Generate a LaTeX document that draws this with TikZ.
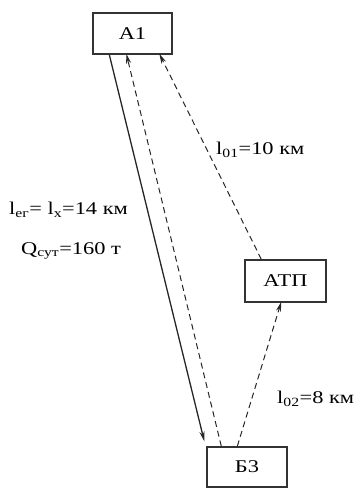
\documentclass[tikz,border=0pt]{standalone}
\usepackage{fontspec}
\setmainfont[FakeStretch=1.25]{Liberation Serif}
\usetikzlibrary{arrows.meta,calc}
\begin{document}
\begin{tikzpicture}[x=1bp,y=-1bp,
  box/.style={draw=black!80,line width=1.4bp,minimum width=79bp,minimum height=41bp,inner sep=0pt,font=\fontsize{18}{20}\selectfont},
  lbl/.style={inner sep=0pt,font=\fontsize{18}{20}\selectfont},
  con/.style={draw=black!85,line width=1bp,-{Stealth[length=10bp,width=5bp]}},
  dsh/.style={con,dash pattern=on 6bp off 4bp}]
\useasboundingbox (0,0) rectangle (360,488);
\node[box] (a1) at (132.5,33.5) {A1};
\node[box,minimum width=80bp,minimum height=40bp] (b3) at (247,467) {Б3};
\node[box,minimum width=81bp,minimum height=42bp] (atp) at (285.5,281) {АТП};
\draw[con,line width=1.3bp] ($(a1.south west)+(17,0)$) -- ($(b3.north west)+(-2,-5)$);
\draw[dsh] ($(b3.north west)+(15,0)$) -- ($(a1.south west)+(34,-1)$);
\draw[dsh] ($(atp.north west)+(17,0)$) -- ($(a1.south west)+(67,-1)$);
\draw[dsh] ($(b3.north west)+(31,0)$) -- ($(atp.south west)+(37,-1)$);
\node[lbl,anchor=west] (l01) at (216,150) {l\textsubscript{01}=10 км};
\node[lbl,anchor=west] (lg) at (9,210) {l\textsubscript{ег}= l\textsubscript{х}=14 км};
\node[lbl,anchor=west] (q) at (21,251) {Q\textsubscript{сут}=160 т};
\node[lbl,anchor=west] (l02) at (277,399) {l\textsubscript{02}=8 км};
\end{tikzpicture}
\end{document}
